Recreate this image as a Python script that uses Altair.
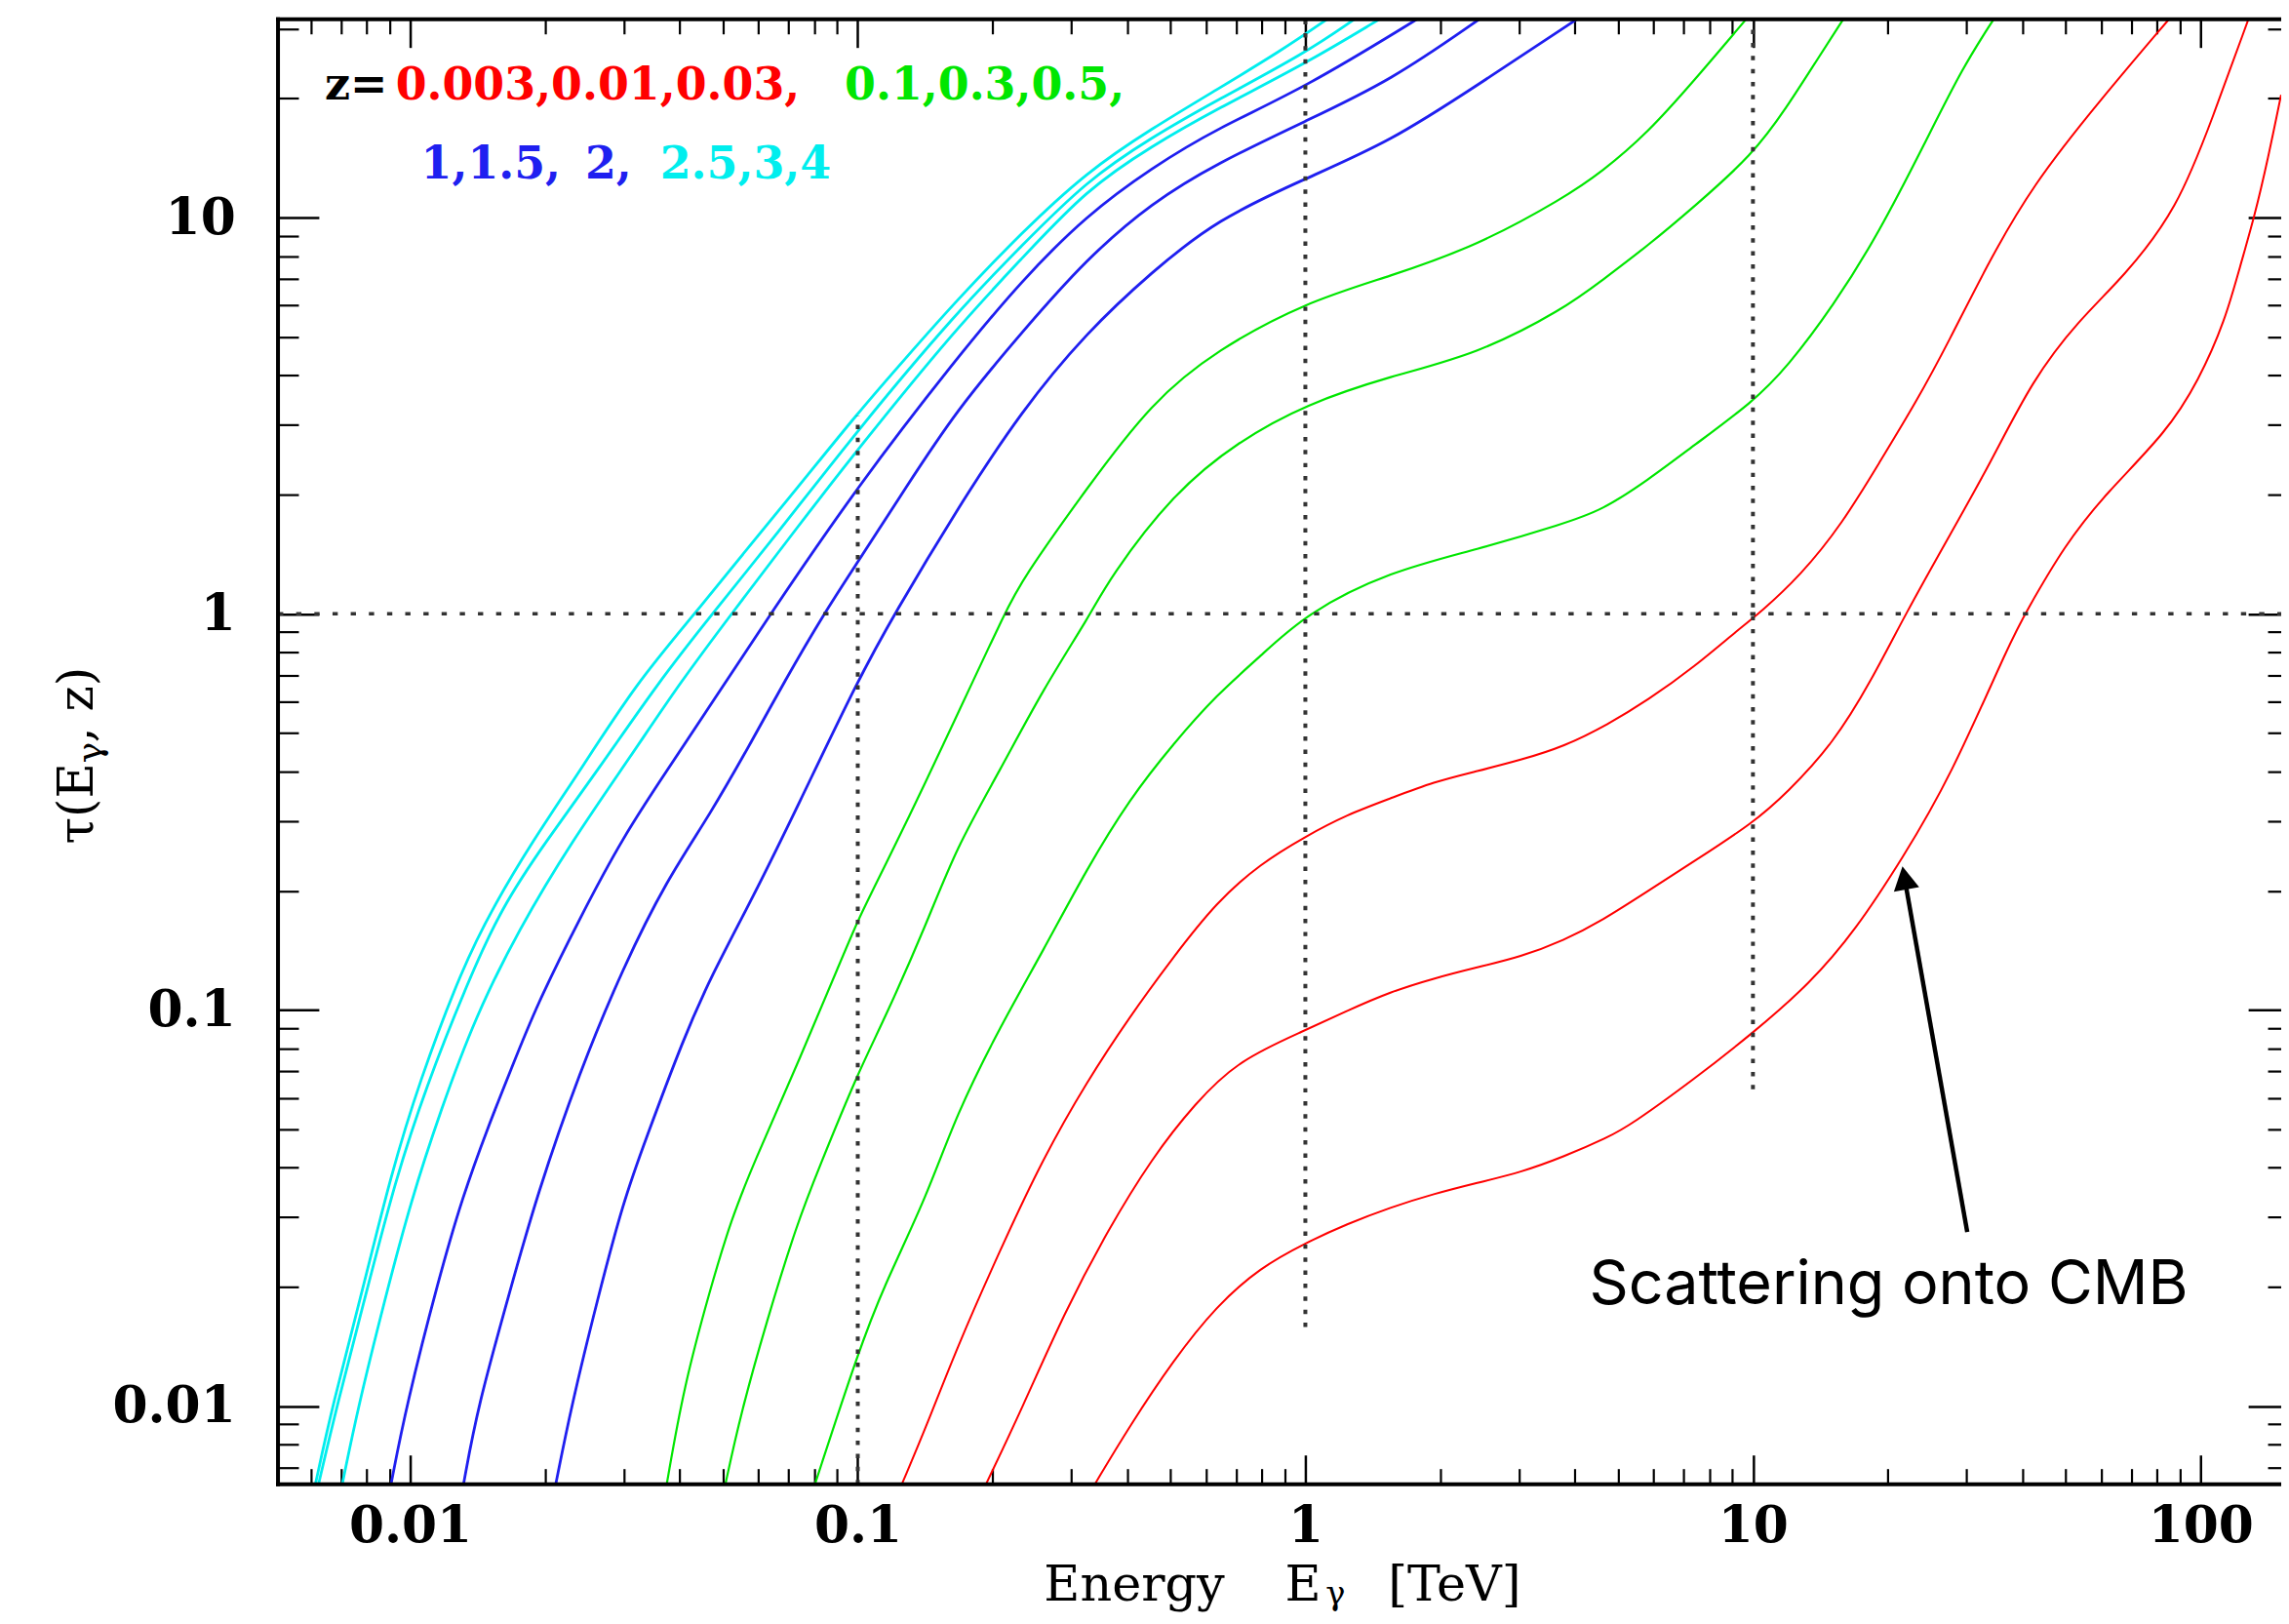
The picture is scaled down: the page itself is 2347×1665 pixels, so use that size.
import altair as alt
import pandas as pd

# ------------------------------------------------------------------
# Values: log10(E / TeV) and log10(tau) per redshift
# ------------------------------------------------------------------
REDSHIFTS = ["0.003", "0.01", "0.03", "0.1", "0.3", "0.5",
             "1", "1.5", "2", "2.5", "3", "4"]

logE_z0003 = [-0.471, -0.392, -0.295, -0.198, -0.101, 0.000, 0.093, 0.190, 0.287, 0.384,
              0.481, 0.578, 0.675, 0.727, 0.868, 1.000, 1.127, 1.231, 1.334, 1.438,
              1.579, 1.608, 1.696, 1.789, 1.924, 1.996, 2.055, 2.089, 2.120, 2.151, 2.180]
logT_z0003 = [-2.198, -2.049, -1.884, -1.746, -1.650, -1.588, -1.540, -1.498, -1.464, -1.436,
              -1.410, -1.370, -1.322, -1.290, -1.175, -1.058, -0.934, -0.796, -0.617, -0.420,
              -0.060, 0.000, 0.173, 0.305, 0.458, 0.589, 0.740, 0.880, 1.000, 1.150, 1.310]

logE_z001 = [-0.714, -0.634, -0.537, -0.440, -0.343, -0.247, -0.149, 0.000, 0.093, 0.190,
             0.287, 0.384, 0.481, 0.578, 0.662, 0.765, 0.868, 1.000, 1.076, 1.179,
             1.264, 1.341, 1.438, 1.531, 1.624, 1.727, 1.828, 1.948, 2.028, 2.107]
logT_z001 = [-2.198, -2.008, -1.760, -1.553, -1.374, -1.236, -1.126, -1.051, -1.002, -0.954,
             -0.920, -0.892, -0.866, -0.824, -0.775, -0.700, -0.625, -0.528, -0.452, -0.328,
             -0.170, 0.000, 0.195, 0.381, 0.590, 0.740, 0.850, 1.020, 1.255, 1.501]

logE_z003 = [-0.902, -0.846, -0.780, -0.683, -0.586, -0.489, -0.392, -0.295, -0.198, -0.101,
             0.000, 0.093, 0.190, 0.287, 0.384, 0.481, 0.578, 0.675, 0.765, 0.868,
             0.972, 1.013, 1.106, 1.200, 1.282, 1.365, 1.438, 1.520, 1.624, 1.779, 1.929]
logT_z003 = [-2.198, -2.049, -1.856, -1.608, -1.374, -1.182, -1.016, -0.866, -0.727, -0.631,
             -0.562, -0.507, -0.466, -0.424, -0.397, -0.369, -0.335, -0.280, -0.218, -0.135,
             -0.035, 0.000, 0.096, 0.228, 0.381, 0.535, 0.688, 0.874, 1.082, 1.301, 1.500]

logE_z01 = [-1.096, -0.998, -0.943, -0.846, -0.780, -0.683, -0.586, -0.489, -0.392, -0.295,
            -0.198, -0.101, 0.000, 0.190, 0.384, 0.578, 0.662, 0.765, 0.868, 1.000,
            1.076, 1.179, 1.282, 1.386, 1.468, 1.538]
logT_z01 = [-2.198, -1.860, -1.700, -1.471, -1.264, -1.044, -0.851, -0.645, -0.466, -0.328,
            -0.204, -0.108, 0.000, 0.108, 0.162, 0.228, 0.261, 0.337, 0.425, 0.535,
            0.622, 0.776, 0.962, 1.192, 1.378, 1.501]

logE_z03 = [-1.296, -1.262, -1.204, -1.136, -1.088, -0.998, -0.943, -0.846, -0.780, -0.683,
            -0.586, -0.479, -0.440, -0.295, -0.149, 0.001, 0.190, 0.384, 0.578, 0.662,
            0.765, 0.868, 1.000, 1.076, 1.138, 1.202]
logT_z03 = [-2.198, -2.021, -1.787, -1.540, -1.402, -1.154, -1.030, -0.782, -0.590, -0.397,
            -0.190, 0.000, 0.086, 0.305, 0.436, 0.529, 0.600, 0.655, 0.770, 0.841,
            0.929, 1.027, 1.159, 1.279, 1.389, 1.501]

logE_z05 = [-1.427, -1.389, -1.330, -1.282, -1.233, -1.136, -1.039, -0.998, -0.943, -0.846,
            -0.780, -0.751, -0.672, -0.634, -0.489, -0.343, -0.198, 0.001, 0.190, 0.384,
            0.578, 0.662, 0.765, 0.868, 0.985]
logT_z05 = [-2.198, -1.952, -1.705, -1.526, -1.388, -1.140, -0.879, -0.768, -0.645, -0.420,
            -0.260, -0.190, 0.000, 0.085, 0.316, 0.535, 0.666, 0.787, 0.852, 0.929,
            1.050, 1.115, 1.214, 1.345, 1.501]

logE_z1 = [-1.675, -1.640, -1.582, -1.524, -1.476, -1.389, -1.330, -1.233, -1.136, -0.998,
           -0.918, -0.780, -0.634, -0.489, -0.343, -0.198, 0.001, 0.190, 0.384, 0.607]
logT_z1 = [-2.198, -2.000, -1.732, -1.484, -1.333, -1.071, -0.920, -0.713, -0.490, -0.163,
           0.000, 0.261, 0.513, 0.710, 0.863, 0.995, 1.099, 1.192, 1.334, 1.501]

logE_z15 = [-1.881, -1.849, -1.776, -1.718, -1.621, -1.524, -1.427, -1.330, -1.233, -1.166,
            -1.076, -1.001, -0.894, -0.780, -0.634, -0.489, -0.343, -0.198, 0.001, 0.190, 0.389]
logT_z15 = [-2.198, -2.000, -1.705, -1.471, -1.154, -0.892, -0.672, -0.507, -0.314, -0.175,
            0.000, 0.129, 0.316, 0.513, 0.710, 0.896, 1.038, 1.137, 1.244, 1.345, 1.501]

logE_z2 = [-2.043, -2.009, -1.936, -1.883, -1.825, -1.776, -1.718, -1.621, -1.524, -1.427,
           -1.330, -1.195, -1.001, -0.780, -0.634, -0.489, -0.343, -0.198, 0.001, 0.250]
logT_z2 = [-2.198, -2.000, -1.677, -1.471, -1.292, -1.154, -0.989, -0.768, -0.562, -0.397,
           -0.232, 0.000, 0.321, 0.644, 0.841, 1.006, 1.126, 1.225, 1.329, 1.501]

logE_z25 = [-2.152, -2.116, -2.057, -1.999, -1.931, -1.854, -1.757, -1.640, -1.505, -1.398,
            -1.282, -1.136, -1.001, -0.780, -0.634, -0.489, -0.343, -0.198, 0.001, 0.166]
logT_z25 = [-2.198, -2.000, -1.732, -1.484, -1.250, -1.016, -0.796, -0.576, -0.356, -0.175,
            0.000, 0.217, 0.414, 0.721, 0.896, 1.071, 1.181, 1.274, 1.389, 1.501]

logE_z3 = [-2.205, -2.164, -2.096, -2.033, -1.965, -1.873, -1.796, -1.698, -1.582, -1.447,
           -1.325, -1.185, -1.001, -0.780, -0.634, -0.489, -0.343, -0.198, 0.001, 0.110]
logT_z3 = [-2.198, -2.000, -1.705, -1.429, -1.195, -0.934, -0.741, -0.576, -0.397, -0.175,
           0.000, 0.195, 0.463, 0.760, 0.929, 1.093, 1.203, 1.296, 1.416, 1.501]

logE_z4 = [-2.212, -2.174, -2.106, -2.043, -1.980, -1.883, -1.815, -1.728, -1.621, -1.495,
           -1.364, -1.233, -1.136, -1.000, -0.894, -0.780, -0.634, -0.489, -0.343, -0.198,
           -0.053, 0.049]
logT_z4 = [-2.198, -2.000, -1.705, -1.416, -1.182, -0.892, -0.741, -0.576, -0.397, -0.175,
           0.000, 0.184, 0.316, 0.507, 0.644, 0.790, 0.962, 1.115, 1.225, 1.323,
           1.422, 1.501]

GROUPS = {
    "red": ["0.003", "0.01", "0.03"],
    "green": ["0.1", "0.3", "0.5"],
    "blue": ["1", "1.5", "2"],
    "cyan": ["2.5", "3", "4"],
}

# axis ticks
X_MAJOR = [0.01, 0.1, 1, 10, 100]
X_MINOR = [0.006, 0.007, 0.008, 0.009,
           0.02, 0.03, 0.04, 0.05, 0.06, 0.07, 0.08, 0.09,
           0.2, 0.3, 0.4, 0.5, 0.6, 0.7, 0.8, 0.9,
           2, 3, 4, 5, 6, 7, 8, 9,
           20, 30, 40, 50, 60, 70, 80, 90]
Y_MAJOR = [0.01, 0.1, 1, 10]
Y_MINOR = [0.007, 0.008, 0.009,
           0.02, 0.03, 0.04, 0.05, 0.06, 0.07, 0.08, 0.09,
           0.2, 0.3, 0.4, 0.5, 0.6, 0.7, 0.8, 0.9,
           2, 3, 4, 5, 6, 7, 8, 9,
           20, 30]

# dotted guide lines
GUIDE_V_E = [0.1, 1, 10]
GUIDE_V_LO_LOG = [None, -1.8, -1.2]     # None -> bottom of the plot
GUIDE_V_HI_LOG = [0.5, None, None]      # None -> top of the plot
GUIDE_H_TAU = [1.0]

# annotation arrow (log10 coordinates)
ARROW_TAIL = (1.4788, -1.5601)
ARROW_NECK = (1.3416, -0.6860)
ARROW_TIP = (1.3340, -0.6376)

# ------------------------------------------------------------------
# Build tables
# ------------------------------------------------------------------
CURVES = {
    "0.003": (logE_z0003, logT_z0003), "0.01": (logE_z001, logT_z001),
    "0.03": (logE_z003, logT_z003), "0.1": (logE_z01, logT_z01),
    "0.3": (logE_z03, logT_z03), "0.5": (logE_z05, logT_z05),
    "1": (logE_z1, logT_z1), "1.5": (logE_z15, logT_z15),
    "2": (logE_z2, logT_z2), "2.5": (logE_z25, logT_z25),
    "3": (logE_z3, logT_z3), "4": (logE_z4, logT_z4),
}
rows = []
for z, (le, lt) in CURVES.items():
    for a, b in zip(le, lt):
        rows.append({"z": z, "E": 10 ** a, "tau": 10 ** b})
curves_df = pd.DataFrame(rows)

LOG_XMIN, LOG_XMAX = -2.2953, 2.1802
LOG_YMIN, LOG_YMAX = -2.1967, 1.5005
XMIN, XMAX = 10 ** LOG_XMIN, 10 ** LOG_XMAX
YMIN, YMAX = 10 ** LOG_YMIN, 10 ** LOG_YMAX

W, H = 2061, 1507

xs = alt.Scale(type="log", domain=[XMIN, XMAX], nice=False)
ys = alt.Scale(type="log", domain=[YMIN, YMAX], nice=False)

COLORS = {"red": "#ff0000", "green": "#00e600", "blue": "#1f1ff0", "cyan": "#00eeee"}
WIDTHS = {"red": 2.0, "green": 2.2, "blue": 2.8, "cyan": 2.8}

TICK_FONT = "DejaVu Serif"


def tick_axis(orient, values, size, labels=False, pad=0, width=2.5):
    kw = dict(orient=orient, values=values, tickSize=size, offset=-size,
              domain=False, grid=False, ticks=True, tickColor="black",
              tickWidth=width, labels=labels, title=None)
    if labels:
        kw.update(format="~g", labelFont=TICK_FONT, labelFontSize=52,
                  labelFontWeight="bold", labelColor="black", labelPadding=pad,
                  labelFlush=False, labelOverlap=False)
    return alt.Axis(**kw)


layers = []

# curves (first group carries the labelled bottom / left axes)
first = True
for g, zs in GROUPS.items():
    sub = curves_df[curves_df["z"].isin(zs)]
    xa = tick_axis("bottom", X_MAJOR, 30, labels=True, pad=18) if first else None
    ya = tick_axis("left", Y_MAJOR, 42, labels=True, pad=44) if first else None
    layers.append(
        alt.Chart(sub).mark_line(clip=True, interpolate="basis",
                                 color=COLORS[g], strokeWidth=WIDTHS[g]).encode(
            x=alt.X("E:Q", scale=xs, axis=xa),
            y=alt.Y("tau:Q", scale=ys, axis=ya),
            detail="z:N",
        )
    )
    first = False

# additional tick-only axes
anchor_df = pd.DataFrame({"E": [1.0], "tau": [1.0]})


def axis_layer(xaxis, yaxis):
    return alt.Chart(anchor_df).mark_point(opacity=0, size=1).encode(
        x=alt.X("E:Q", scale=xs, axis=xaxis),
        y=alt.Y("tau:Q", scale=ys, axis=yaxis),
    )


layers.append(axis_layer(tick_axis("bottom", X_MINOR, 16, width=2.2),
                         tick_axis("left", Y_MINOR, 21, width=2.2)))
layers.append(axis_layer(tick_axis("top", X_MAJOR, 29),
                         tick_axis("right", Y_MAJOR, 34)))
layers.append(axis_layer(tick_axis("top", X_MINOR, 15, width=2.2),
                         tick_axis("right", Y_MINOR, 14, width=2.2)))

# dotted guides
vdf = pd.DataFrame({
    "E": GUIDE_V_E,
    "lo": [YMIN if v is None else 10 ** v for v in GUIDE_V_LO_LOG],
    "hi": [YMAX if v is None else 10 ** v for v in GUIDE_V_HI_LOG],
})
layers.append(
    alt.Chart(vdf).mark_rule(color="#333333", strokeWidth=4, strokeDash=[4.5, 8.9]).encode(
        x=alt.X("E:Q", scale=xs, axis=None),
        y=alt.Y("lo:Q", scale=ys, axis=None),
        y2="hi:Q",
    )
)
hdf = pd.DataFrame({"tau": GUIDE_H_TAU, "x1": [XMIN], "x2": [XMAX]})
layers.append(
    alt.Chart(hdf).mark_rule(color="#333333", strokeWidth=3.6, strokeDash=[5.4, 13.3]).encode(
        y=alt.Y("tau:Q", scale=ys, axis=None),
        x=alt.X("x1:Q", scale=xs, axis=None),
        x2="x2:Q",
    )
)

# frame (left, top, bottom)
one = pd.DataFrame({"k": [0]})
frame_style = dict(color="black", strokeWidth=4, strokeCap="square")
layers.append(alt.Chart(one).mark_rule(**frame_style).encode(
    x=alt.value(0), y=alt.value(0), y2=alt.value(H)))
layers.append(alt.Chart(one).mark_rule(**frame_style).encode(
    x=alt.value(0), x2=alt.value(W), y=alt.value(0)))
layers.append(alt.Chart(one).mark_rule(**frame_style).encode(
    x=alt.value(0), x2=alt.value(W), y=alt.value(H)))


def text_layer(s, x, y, font, size, color="black", weight="normal", align="left", angle=0):
    return alt.Chart(pd.DataFrame({"label": [s]})).mark_text(
        font=font, fontSize=size, fontWeight=weight, color=color,
        align=align, baseline="alphabetic", angle=angle,
    ).encode(text="label:N", x=alt.value(x), y=alt.value(y))


# redshift legend
LEG = "DejaVu Serif"
layers += [
    text_layer("z=", 48, 82, LEG, 46, "black", "bold"),
    text_layer("0.003,0.01,0.03,", 121, 82, LEG, 46, COLORS["red"], "bold"),
    text_layer("0.1,0.3,0.5,", 583, 82, LEG, 46, COLORS["green"], "bold"),
    text_layer("1,1.5,", 147, 164, LEG, 46, COLORS["blue"], "bold"),
    text_layer("2,", 316, 164, LEG, 46, COLORS["blue"], "bold"),
    text_layer("2.5,3,4", 393, 164, LEG, 46, COLORS["cyan"], "bold"),
]

# x-axis title: Energy E_gamma [TeV]
layers += [
    text_layer("Energy", 788, 1627, "DejaVu Serif", 51),
    text_layer("E", 1036, 1627, "DejaVu Serif", 51),
    text_layer("γ", 1078, 1631, "DejaVu Serif", 34),
    text_layer("[TeV]", 1142, 1627, "DejaVu Serif", 51),
]

# y-axis title: tau(E_gamma, z), rotated
layers += [
    text_layer("τ(E", -191, 765, "DejaVu Serif", 50, align="right", angle=270),
    text_layer("γ", -182, 765, "DejaVu Serif", 36, align="left", angle=270),
    text_layer(", z)", -191, 744, "DejaVu Serif", 50, align="left", angle=270),
]

# annotation
layers.append(text_layer("Scattering onto CMB", 1349, 1322, "Inter", 63))
arrow_df = pd.DataFrame({
    "E1": [10 ** ARROW_TAIL[0]], "T1": [10 ** ARROW_TAIL[1]],
    "E2": [10 ** ARROW_NECK[0]], "T2": [10 ** ARROW_NECK[1]],
    "Et": [10 ** ARROW_TIP[0]], "Tt": [10 ** ARROW_TIP[1]],
})
layers.append(alt.Chart(arrow_df).mark_rule(color="black", strokeWidth=4.5).encode(
    x=alt.X("E1:Q", scale=xs, axis=None), y=alt.Y("T1:Q", scale=ys, axis=None),
    x2="E2:Q", y2="T2:Q"))
layers.append(alt.Chart(arrow_df).mark_point(
    shape="M0,0 L-0.55,1 L0.55,1 Z", filled=True, size=2304, angle=349.94,
    color="black", opacity=1).encode(
    x=alt.X("Et:Q", scale=xs, axis=None), y=alt.Y("Tt:Q", scale=ys, axis=None)))

chart = alt.layer(*layers).resolve_axis(
    x="independent", y="independent"
).properties(
    width=W, height=H,
    padding={"left": 278, "top": 9, "right": 0, "bottom": 133},
    autosize=alt.AutoSizeParams(type="none"),
    background="white",
).configure_view(strokeWidth=0)

chart.save("out.html", embed_options={"renderer": "svg", "actions": False})
